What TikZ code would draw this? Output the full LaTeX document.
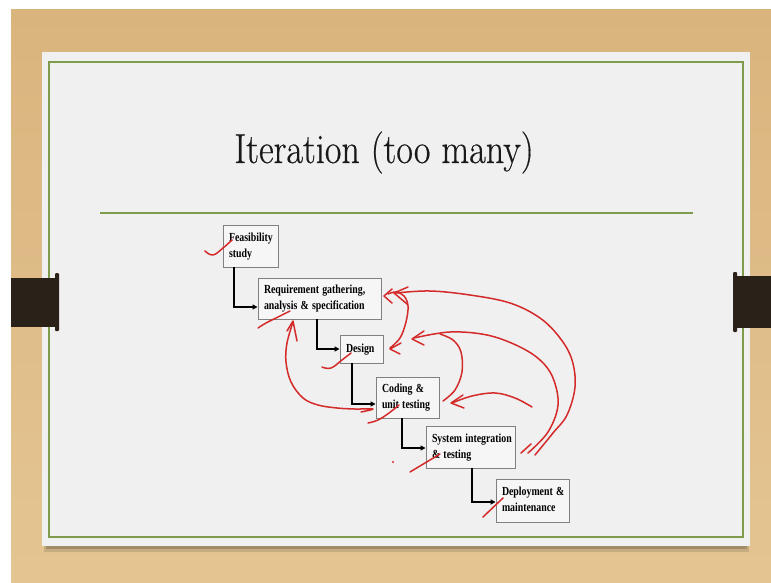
\documentclass[tikz,border=0pt]{standalone}
\usepackage{fontspec}
\usepackage{graphicx}
\usetikzlibrary{calc,arrows.meta}
\newfontfamily\stagefont{Liberation Serif}
\newfontfamily\titlefont[FakeBold=0.5]{Latin Modern Roman}
% narrow bold label block, lines left aligned
\newcommand\stagetext[1]{\scalebox{0.8}[1]{\begin{tabular}{@{}l@{}}#1\end{tabular}}}

\definecolor{woodtop}{HTML}{DAB47D}
\definecolor{woodbot}{HTML}{E4C592}
\definecolor{paper}{HTML}{F0F0F0}
\definecolor{framegreen}{HTML}{7F9C4C}
\definecolor{tabdark}{HTML}{2A2119}
\definecolor{boxfill}{HTML}{F6F6F6}
\definecolor{boxline}{HTML}{808080}
\definecolor{pen}{HTML}{D52A2A}

\tikzset{
  stage/.style={draw=boxline, line width=0.9pt, fill=boxfill, align=left,
    inner xsep=6pt, inner ysep=2pt,
    font=\stagefont\bfseries\fontsize{12.3}{16}\selectfont},
  flow/.style={draw=black, line width=1.3pt,
    -{Triangle[length=5pt,width=5pt]}},
  ink/.style={draw=pen, line width=1.5pt, line cap=round, line join=round}
}

\begin{document}
\begin{tikzpicture}[x=1pt,y=-1pt]
\useasboundingbox (0,0) rectangle (771,583);

% backdrop: white margin and wooden desk
\fill[white] (0,0) rectangle (771,583);
\shade[top color=woodtop, bottom color=woodbot] (11,10) rectangle (771,583);

% slide sheet with a soft shadow underneath
\fill[black,opacity=0.12] (44,546) rectangle (749,552);
\fill[black,opacity=0.18] (46,545) rectangle (747,549);
\fill[paper] (42,52) rectangle (750,546);
\draw[framegreen, line width=2pt] (49,62) rectangle (743,537);

% black side tabs
\fill[tabdark] (11,278) rectangle (57,327);
\fill[tabdark, rounded corners=1pt] (55,273) rectangle (59,331);
\fill[tabdark] (735,276) rectangle (771,328);
\fill[tabdark, rounded corners=1pt] (733,272) rectangle (737,332);

% title and rule
\node[anchor=base, text=black!90] (title) at (384,163)
  {\scalebox{0.86}[1]{\titlefont\fontsize{42}{42}\selectfont Iteration (too many)}};
\draw[framegreen, line width=2.5pt] (100,213) -- (693,213);

% waterfall stages
\node[stage, minimum width=55pt, minimum height=42pt, text width=43pt] (feas) at (250.5,246) {\stagetext{Feasibility\\study}};
\node[stage, minimum width=123pt, minimum height=41pt, text width=111pt] (req) at (319.5,298.5) {\stagetext{Requirement gathering,\\analysis \& specification}};
\node[stage, minimum width=43pt, minimum height=28pt, text width=31pt] (des) at (361.5,349) {\stagetext{Design}};
\node[stage, minimum width=63pt, minimum height=41pt, text width=51pt] (code) at (407.5,397.5) {\stagetext{Coding \&\\unit testing}};
\node[stage, minimum width=89pt, minimum height=42pt, text width=77pt] (sys) at (470.5,447) {\stagetext{System integration\\\& testing}};
\node[stage, minimum width=73pt, minimum height=43pt, text width=61pt] (dep) at (532.5,500.5) {\stagetext{Deployment \&\\maintenance}};

% stage-to-stage flow
\draw[flow] ($(feas.south)+(-16.5,0)$) |- ($(req.west)+(0,8.5)$);
\draw[flow] ($(req.south)+(-2.5,0)$) |- (des.west);
\draw[flow] ($(des.south)+(-9.5,0)$) |- ($(code.west)+(0,6.5)$);
\draw[flow] ($(code.south)+(-5.5,0)$) |- ($(sys.west)+(0,1)$);
\draw[flow] ($(sys.south)+(1.5,0)$) |- ($(dep.west)+(0,1.5)$);

% hand-drawn ticks
\draw[ink] plot[smooth, tension=0.7] coordinates {(205,251) (213,255) (223,248) (232,240)};
\draw[ink] plot[smooth, tension=0.7] coordinates {(258,328) (266,323) (278,317) (290,311)};
\draw[ink] plot[smooth, tension=0.7] coordinates {(322,367) (331,368) (342,360) (351,353)};
\draw[ink] plot[smooth, tension=0.7] coordinates {(368,423) (378,420) (389,413) (399,405)};
\draw[ink] (410,472) -- (440,454);
\draw[ink] (483,517) -- (503,498);
\fill[pen] (393,462) circle (1.2pt);
\draw[ink] (521,453) -- (531,444);

% feedback loop: coding back to requirements
\draw[ink] plot[smooth, tension=0.6] coordinates {(361,412) (373,409) (355,409) (337,408) (318,405) (303,398) (291,382) (286,362) (287,343) (293,322)};
\draw[ink] (287,331) -- (293,321) -- (297,341);

% design back to requirements
\draw[ink] plot[smooth, tension=0.6] coordinates {(390,348) (400,338) (406,322) (408,306) (404,296) (396,292) (388,294)};
\draw[ink] (392,289) -- (384,296) -- (392,303);
\draw[ink] (401,343) -- (390,349) -- (400,354);

% system integration back to requirements
\draw[ink] plot[smooth, tension=0.6] coordinates {(535,455) (553,433) (567,415) (575,387) (572,360) (560,338) (540,318) (510,303) (470,295) (430,291) (396,293)};
\draw[ink] (408,287) -- (394,293) -- (407,304);

% system integration back to design
\draw[ink] plot[smooth, tension=0.6] coordinates {(528,453) (548,432) (558,405) (553,378) (540,360) (518,346) (487,335) (450,332) (414,338)};
\draw[ink] (424,331) -- (412,339) -- (424,345);

% coding back to design
\draw[ink] plot[smooth, tension=0.6] coordinates {(443,401) (455,390) (462,372) (461,352) (453,340) (440,334)};

% integration back to coding
\draw[ink] plot[smooth, tension=0.6] coordinates {(532,407) (515,398) (495,393) (472,396) (452,403)};
\draw[ink] (463,395) -- (451,403) -- (464,408);
\end{tikzpicture}
\end{document}
